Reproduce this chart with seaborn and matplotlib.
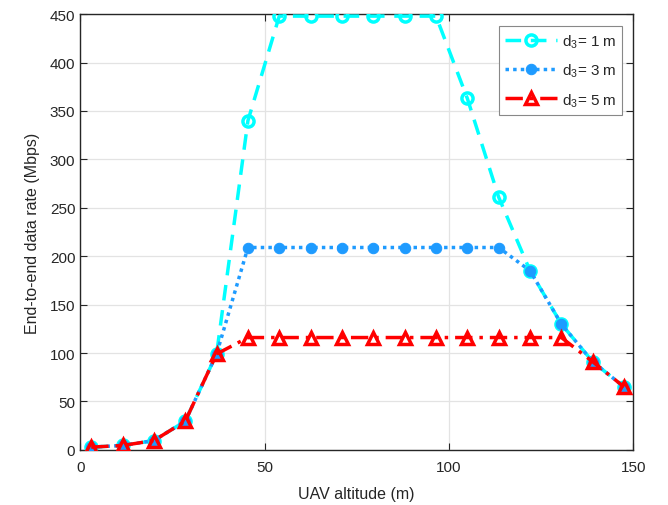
import numpy as np
import pandas as pd
import seaborn as sns
import matplotlib.pyplot as plt

# UAV altitude (m)
altitude = [3, 11.5, 20, 28.5, 37, 45.5, 54, 62.5, 71, 79.5, 88, 96.5,
            105, 113.5, 122, 130.5, 139, 147.5]

# end-to-end data rate (Mbps) for each d3
rate_d1 = [2.8, 4.5, 9.6, 29.6, 99, 340, 448, 448, 448, 448, 448, 448,
           363, 261, 185, 130, 91, 65]
rate_d3 = [2.8, 4.5, 9.6, 29.6, 99, 209, 209, 209, 209, 209, 209, 209,
           209, 209, 185, 130, 91, 65]
rate_d5 = [2.8, 4.5, 9.6, 29.6, 99, 116, 116, 116, 116, 116, 116, 116,
           116, 116, 116, 116, 91, 65]

labels = ['d$_3$= 1 m', 'd$_3$= 3 m', 'd$_3$= 5 m']

sns.set_style('whitegrid')
plt.rcParams['font.family'] = ['Liberation Sans', 'DejaVu Sans']
plt.rcParams['mathtext.fontset'] = 'custom'
plt.rcParams['mathtext.rm'] = 'Liberation Sans'

fig = plt.figure(figsize=(6.68, 5.06), dpi=100)
ax = fig.add_axes([0.12, 0.109, 0.828, 0.861])

sns.lineplot(x=altitude, y=rate_d1, ax=ax, color='#00FFFF', linestyle=(0, (4.5, 2.8)),
             linewidth=2.5, marker='o', markersize=8, markerfacecolor='none',
             markeredgecolor='#00FFFF', markeredgewidth=2.5, label=labels[0], zorder=3)
sns.lineplot(x=altitude, y=rate_d3, ax=ax, color='#1E9BFF', linestyle=(0, (1, 1.2)),
             linewidth=2.5, marker='o', markersize=7.5, markerfacecolor='#1E9BFF',
             markeredgecolor='#1E9BFF', label=labels[1], zorder=4)
sns.lineplot(x=altitude, y=rate_d5, ax=ax, color='red', linestyle=(0, (5, 2, 1, 2)),
             linewidth=2.5, marker='^', markersize=9, markerfacecolor='none',
             markeredgecolor='red', markeredgewidth=2.5, label=labels[2], zorder=5)

ax.set_xlim(0, 150)
ax.set_ylim(0, 450)
ax.set_xticks([0, 50, 100, 150])
ax.set_yticks(np.arange(0, 451, 50))
ax.set_xlabel('UAV altitude (m)', fontsize=11.5, color='#262626', labelpad=9)
ax.set_ylabel('End-to-end data rate (Mbps)', fontsize=11.5, color='#262626', labelpad=7)
ax.tick_params(direction='in', length=5, labelsize=11, colors='#262626',
               top=True, right=True, bottom=True, left=True, width=0.8)
ax.tick_params(axis='x', pad=7)
ax.grid(True, color='#e3e3e3', linewidth=0.9)
for s in ax.spines.values():
    s.set_color('#262626')
    s.set_linewidth(1.0)

leg = ax.legend(loc='upper right', fontsize=11, frameon=True, fancybox=False,
                edgecolor='#888888', framealpha=1, handlelength=3.4,
                handletextpad=0.3, borderpad=0.4, labelspacing=0.75,
                borderaxespad=0, bbox_to_anchor=(0.98, 0.972))
leg.get_frame().set_linewidth(0.8)

fig.savefig('out.png', dpi=100)
